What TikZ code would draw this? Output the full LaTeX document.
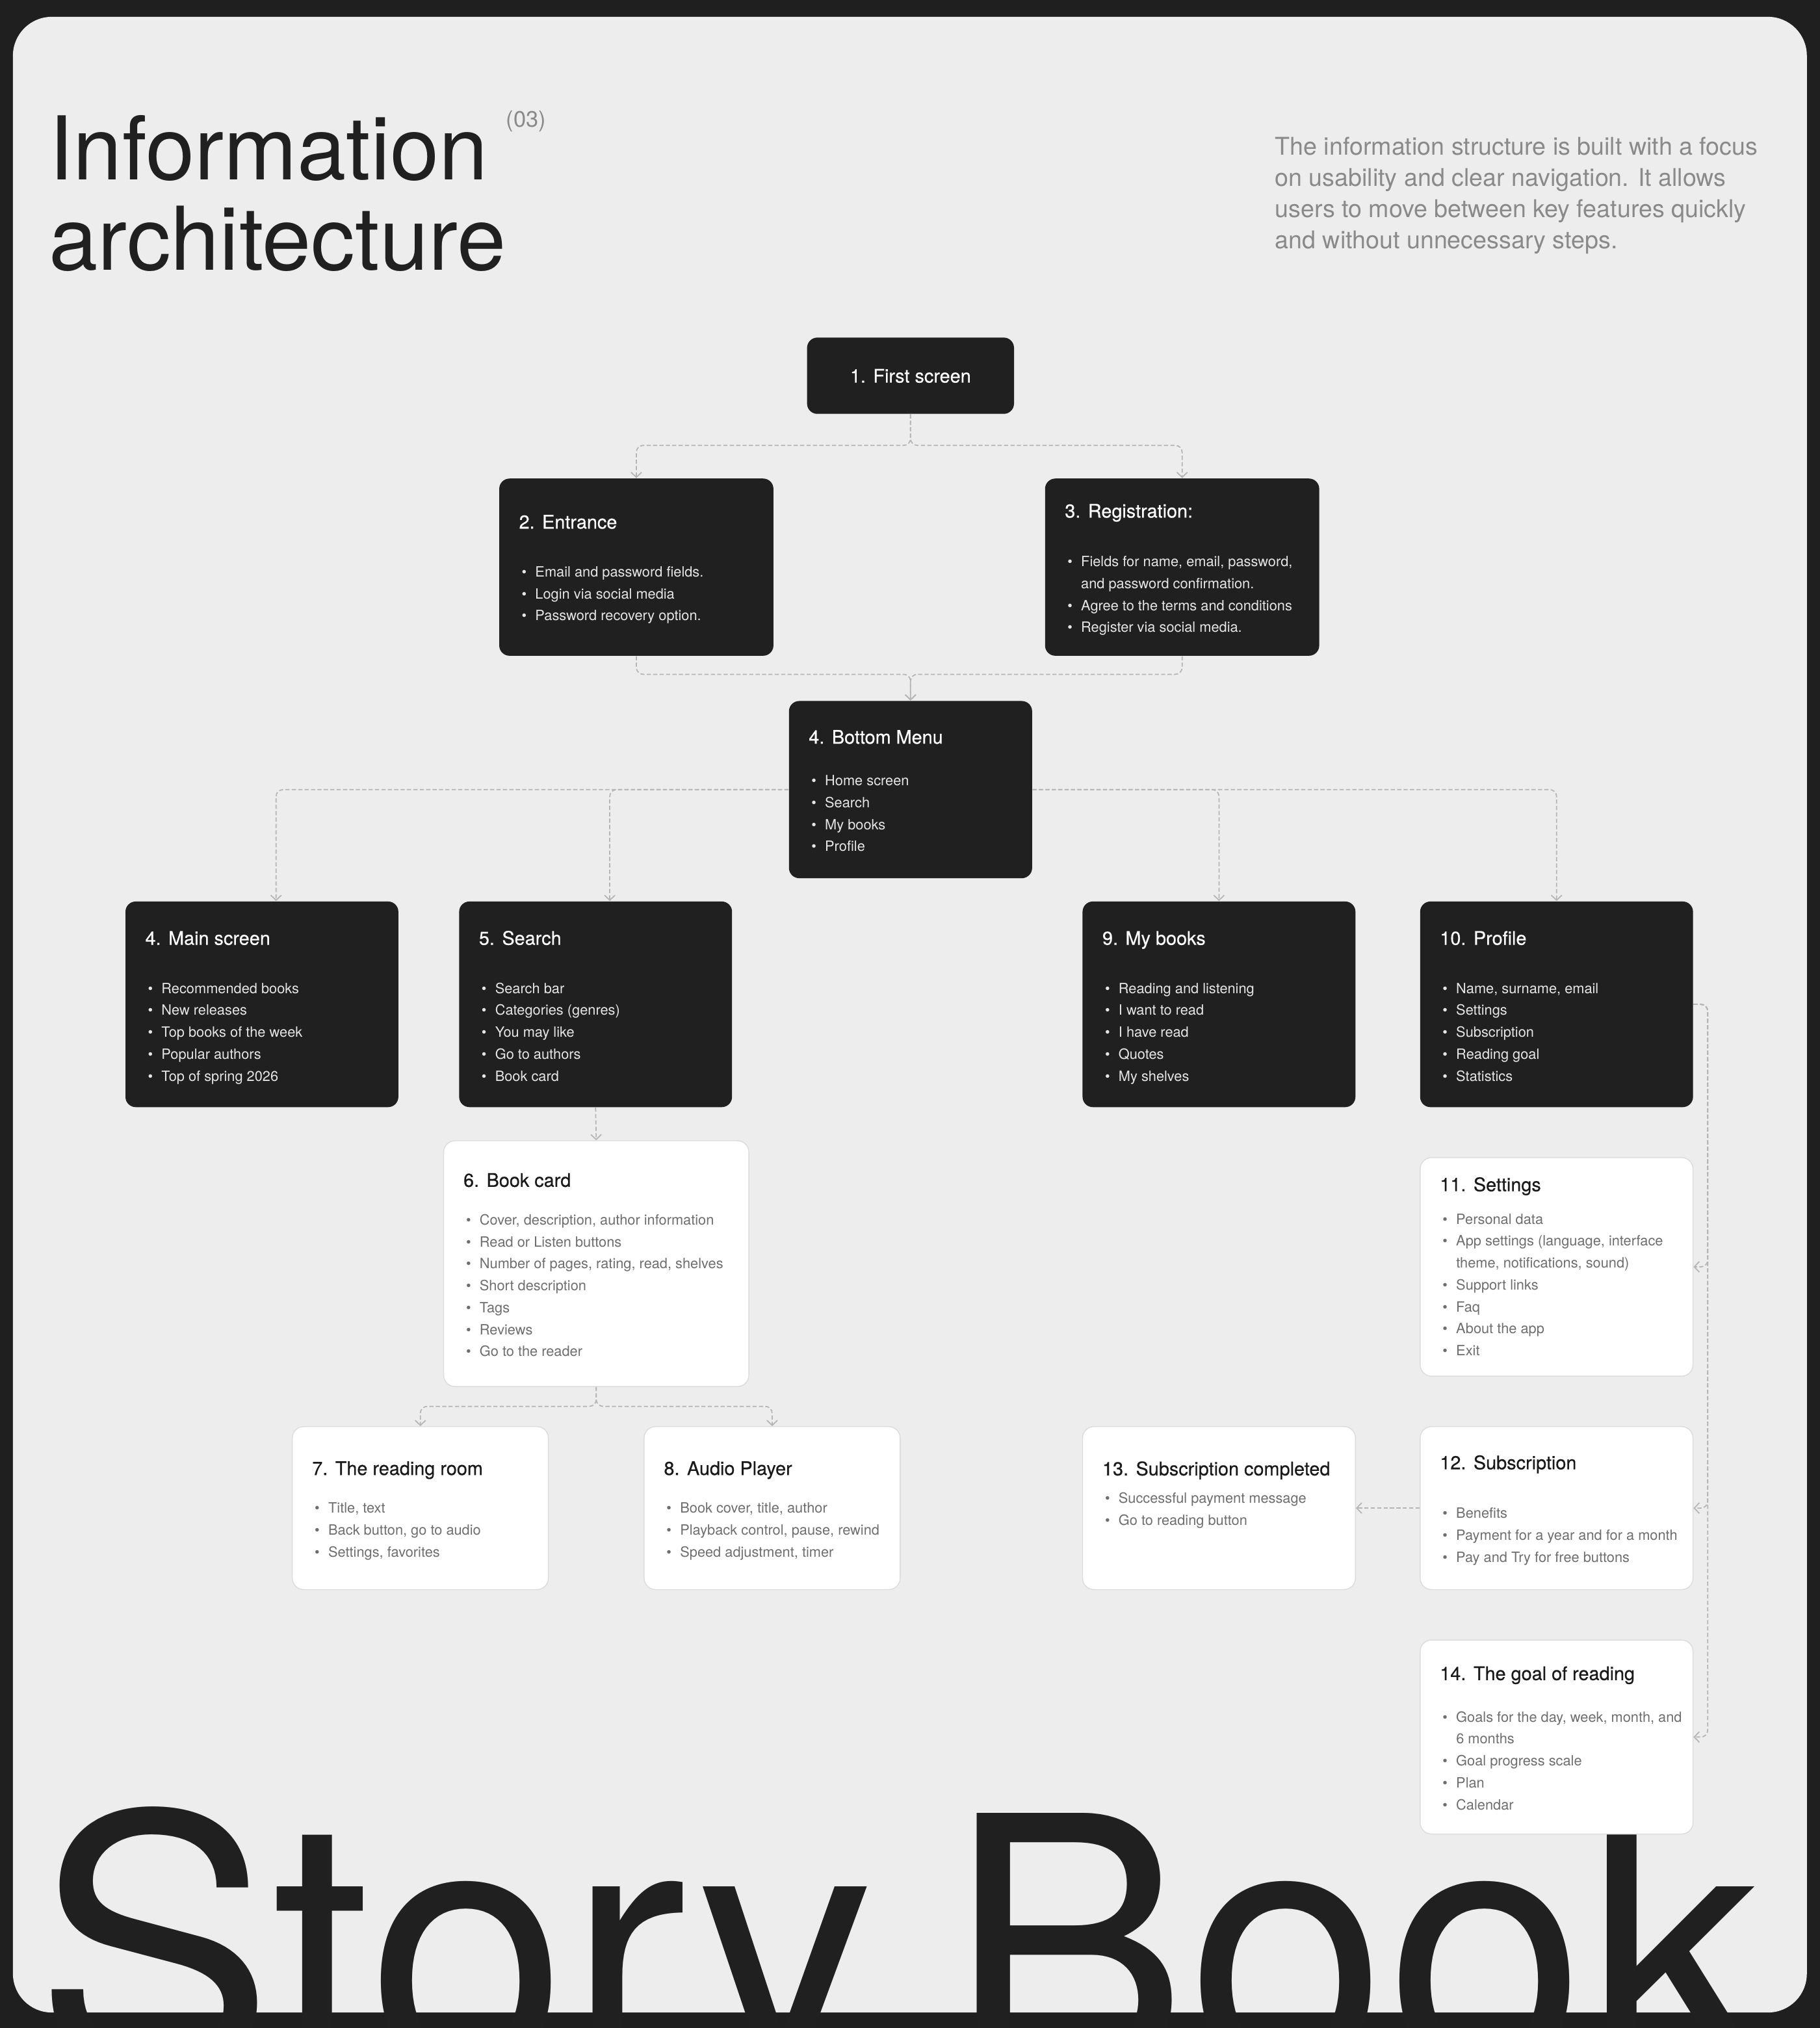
\documentclass[tikz,border=0pt]{standalone}
\usepackage{fontspec}
\setmainfont{TeX Gyre Heros}
\newfontfamily\titlefont[FakeBold=0.45]{TeX Gyre Heros}
\usepackage{tikz}
\usetikzlibrary{fit, arrows.meta}

\definecolor{bgdark}{HTML}{1F1F1F}
\definecolor{panel}{HTML}{EEEDED}
\definecolor{boxdark}{HTML}{202020}
\definecolor{linkgrey}{HTML}{B5B5B5}
\definecolor{softgrey}{HTML}{8A8A8A}
\definecolor{itemgrey}{HTML}{6E6E6E}
\definecolor{itemlight}{HTML}{E6E6E6}
\definecolor{boxline}{HTML}{DCDCDC}

\newcommand{\bul}{\strut\makebox[5.95pt][l]{\textbullet}}
\newcommand{\cont}{\strut\hspace*{5.95pt}}
\newcommand{\stepno}[1]{#1.\hspace{.4em}}

\tikzset{
  darkbox/.style={fill=boxdark, rounded corners=4.5pt, inner sep=0pt},
  lightbox/.style={fill=white, draw=boxline, line width=0.4pt, rounded corners=5pt, inner sep=0pt},
  ttl/.style={anchor=base west, inner sep=0pt, font=\titlefont\fontsize{8.2}{10}\selectfont},
  lst/.style={anchor=north west, yshift=6.72pt, inner sep=0pt, align=left, font=\fontsize{6.2}{9.6}\selectfont},
  ondark/.style={text=white},
  onlight/.style={text=black!90},
  lstdark/.style={lst, text=itemlight},
  lstlight/.style={lst, text=itemgrey},
  link/.style={draw=linkgrey, line width=0.5pt, dash pattern=on 1.8pt off 1pt, rounded corners=3pt,
    -{Straight Barb[length=2.2pt, width=4.6pt]}},
  heading/.style={anchor=base west, inner sep=0pt, text=boxdark, font=\fontsize{38.5}{40}\selectfont},
  wordmark/.style={anchor=base west, inner sep=0pt, text=boxdark, font=\fontsize{156.9}{160}\selectfont},
}

\begin{document}
\begin{tikzpicture}[x=0.0199cm, y=-0.0199cm]
  \useasboundingbox (0,0) rectangle (1407,1568);
  \fill[bgdark] (0,0) rectangle (1407,1568);
  \fill[panel, rounded corners=17pt] (10,13) rectangle (1397,1556);

  % heading and intro
  \node[heading] (hd1) at (37.5,139) {Information};
  \node[heading] (hd2) at (37.5,209) {architecture};
  \node[anchor=base west, inner sep=0pt, text=softgrey, font=\fontsize{9.8}{11}\selectfont] (secno) at (391,98) {(03)};
  \node[anchor=north west, yshift=9.56pt, inner sep=0pt, align=left, text=softgrey,
    font=\fontsize{10.7}{13.65}\selectfont] (intro) at (985.5,119.6)
    {\strut The information structure is built with a focus\\
     on usability and clear navigation. It allows\\
     users to move between key features quickly\\
     and without unnecessary steps.};

  % big wordmark, under the cards
  \node[wordmark] (wm1) at (26.4,1604) {Story};
  \node[wordmark] (wm2) at (733,1604) {Book};

  % level 1
  \node[darkbox, fit={(624,261) (784,320)}] (first) {};
  \node[ttl, ondark, anchor=base] (first-t) at (704,295.8) {\stepno{1}First screen};

  % level 2
  \node[darkbox, fit={(386,370) (598,507)}] (entr) {};
  \node[ttl, ondark] (entr-t) at (401,408.7) {\stepno{2}Entrance};
  \node[lstdark] (entr-l) at (403,445.6)
    {\bul Email and password fields.\\ \bul Login via social media\\ \bul Password recovery option.};

  \node[darkbox, fit={(808,370) (1020,507)}] (reg) {};
  \node[ttl, ondark] (reg-t) at (823,400.2) {\stepno{3}Registration:};
  \node[lstdark] (reg-l) at (825,437.7)
    {\bul Fields for name, email, password,\\ \cont and password confirmation.\\
     \bul Agree to the terms and conditions\\ \bul Register via social media.};

  % level 3
  \node[darkbox, fit={(610,542) (798,679)}] (menu) {};
  \node[ttl, ondark] (menu-t) at (625,575) {\stepno{4}Bottom Menu};
  \node[lstdark] (menu-l) at (627,607)
    {\bul Home screen\\ \bul Search\\ \bul My books\\ \bul Profile};

  % level 4
  \node[darkbox, fit={(97,697) (308,856)}] (mains) {};
  \node[ttl, ondark] (mains-t) at (112,730.5) {\stepno{4}Main screen};
  \node[lstdark] (mains-l) at (114,767.6)
    {\bul Recommended books\\ \bul New releases\\ \bul Top books of the week\\
     \bul Popular authors\\ \bul Top of spring 2026};

  \node[darkbox, fit={(355,697) (566,856)}] (search) {};
  \node[ttl, ondark] (search-t) at (370,730.5) {\stepno{5}Search};
  \node[lstdark] (search-l) at (372,767.6)
    {\bul Search bar\\ \bul Categories (genres)\\ \bul You may like\\
     \bul Go to authors\\ \bul Book card};

  \node[darkbox, fit={(837,697) (1048,856)}] (mybooks) {};
  \node[ttl, ondark] (mybooks-t) at (852,730.5) {\stepno{9}My books};
  \node[lstdark] (mybooks-l) at (854,767.6)
    {\bul Reading and listening\\ \bul I want to read\\ \bul I have read\\
     \bul Quotes\\ \bul My shelves};

  \node[darkbox, fit={(1098,697) (1309,856)}] (profile) {};
  \node[ttl, ondark] (profile-t) at (1113,730.5) {\stepno{10}Profile};
  \node[lstdark] (profile-l) at (1115,767.6)
    {\bul Name, surname, email\\ \bul Settings\\ \bul Subscription\\
     \bul Reading goal\\ \bul Statistics};

  % white cards
  \node[lightbox, fit={(343,882) (579,1072)}] (bookcard) {};
  \node[ttl, onlight] (bookcard-t) at (358,917.6) {\stepno{6}Book card};
  \node[lstlight] (bookcard-l) at (360,946.7)
    {\bul Cover, description, author information\\ \bul Read or Listen buttons\\
     \bul Number of pages, rating, read, shelves\\ \bul Short description\\
     \bul Tags\\ \bul Reviews\\ \bul Go to the reader};

  \node[lightbox, fit={(226,1103) (424,1229)}] (reading) {};
  \node[ttl, onlight] (reading-t) at (241,1140.4) {\stepno{7}The reading room};
  \node[lstlight] (reading-l) at (243,1169.5)
    {\bul Title, text\\ \bul Back button, go to audio\\ \bul Settings, favorites};

  \node[lightbox, fit={(498,1103) (696,1229)}] (audio) {};
  \node[ttl, onlight] (audio-t) at (513,1140.4) {\stepno{8}Audio Player};
  \node[lstlight] (audio-l) at (515,1169.5)
    {\bul Book cover, title, author\\ \bul Playback control, pause, rewind\\
     \bul Speed adjustment, timer};

  \node[lightbox, fit={(1098,895) (1309,1064)}] (settings) {};
  \node[ttl, onlight] (settings-t) at (1113,921) {\stepno{11}Settings};
  \node[lstlight] (settings-l) at (1115,946)
    {\bul Personal data\\ \bul App settings (language, interface\\
     \cont theme, notifications, sound)\\ \bul Support links\\ \bul Faq\\
     \bul About the app\\ \bul Exit};

  \node[lightbox, fit={(1098,1103) (1309,1229)}] (subscr) {};
  \node[ttl, onlight] (subscr-t) at (1113,1136) {\stepno{12}Subscription};
  \node[lstlight] (subscr-l) at (1115,1173.4)
    {\bul Benefits\\ \bul Payment for a year and for a month\\
     \bul Pay and Try for free buttons};

  \node[lightbox, fit={(837,1103) (1048,1229)}] (done) {};
  \node[ttl, onlight] (done-t) at (852,1140.7) {\stepno{13}Subscription completed};
  \node[lstlight] (done-l) at (854,1161.7)
    {\bul Successful payment message\\ \bul Go to reading button};

  \node[lightbox, fit={(1098,1268) (1309,1418)}] (goal) {};
  \node[ttl, onlight] (goal-t) at (1113,1299) {\stepno{14}The goal of reading};
  \node[lstlight] (goal-l) at (1115,1331)
    {\bul Goals for the day, week, month, and\\ \cont 6 months\\
     \bul Goal progress scale\\ \bul Plan\\ \bul Calendar};

  % connectors
  \draw[link] (first.south) -- ++(0,24) -| (entr.north);
  \draw[link] (first.south) -- ++(0,24) -| (reg.north);
  \draw[link] (entr.south) -- ++(0,14) -| (menu.north);
  \draw[link] (reg.south) -- ++(0,14) -| (menu.north);
  \draw[link] (menu.west) -| ([xshift=6.2pt]mains.north);
  \draw[link] (menu.west) -| ([xshift=6.2pt]search.north);
  \draw[link] (menu.east) -| (mybooks.north);
  \draw[link] (menu.east) -| (profile.north);
  \draw[link] (search.south) -- (bookcard.north);
  \draw[link] (bookcard.south) -- ++(0,15) -| (reading.north);
  \draw[link] (bookcard.south) -- ++(0,15) -| (audio.north);
  \draw[link] (profile.east) -- ++(11,0) |- (settings.east);
  \draw[link] (profile.east) -- ++(11,0) |- (subscr.east);
  \draw[link] (profile.east) -- ++(11,0) |- (goal.east);
  \draw[link] (subscr.west) -- (done.east);
\end{tikzpicture}
\end{document}
